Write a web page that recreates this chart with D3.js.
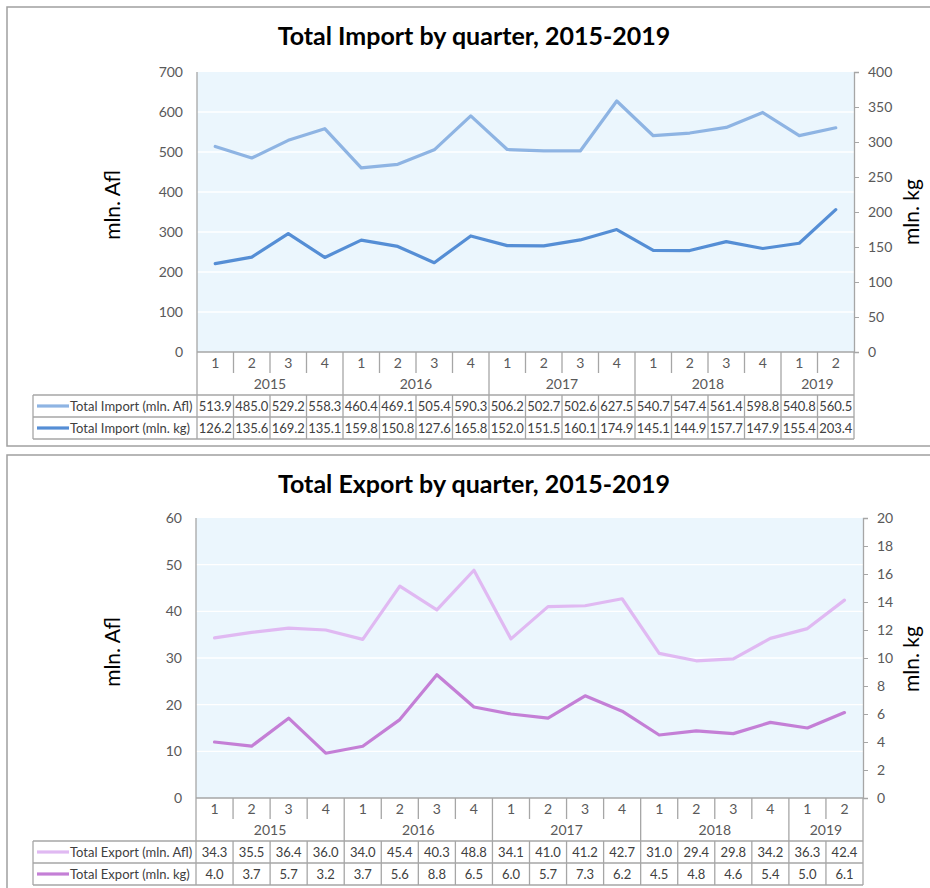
<!DOCTYPE html>
<html>
<head>
<meta charset="utf-8">
<script src="https://cdn.jsdelivr.net/npm/d3@7"></script>
<style>
  html, body { margin: 0; padding: 0; background: #fff; }
  svg { display: block; font-family: Lato, "Open Sans", sans-serif; }
</style>
</head>
<body>
<svg id="chart" width="930" height="888"></svg>
<script>
// ---------- data ----------
const quarters = ["1","2","3","4","1","2","3","4","1","2","3","4","1","2","3","4","1","2"];
const years = ["2015","2016","2017","2018","2019"];
const yearSpans = [4, 4, 4, 4, 2];

const importAfl = [513.9,485.0,529.2,558.3,460.4,469.1,505.4,590.3,506.2,502.7,502.6,627.5,540.7,547.4,561.4,598.8,540.8,560.5];
const importKg  = [126.2,135.6,169.2,135.1,159.8,150.8,127.6,165.8,152.0,151.5,160.1,174.9,145.1,144.9,157.7,147.9,155.4,203.4];
const exportAfl = [34.3,35.5,36.4,36.0,34.0,45.4,40.3,48.8,34.1,41.0,41.2,42.7,31.0,29.4,29.8,34.2,36.3,42.4];
const exportKg  = [4.0,3.7,5.7,3.2,3.7,5.6,8.8,6.5,6.0,5.7,7.3,6.2,4.5,4.8,4.6,5.4,5.0,6.1];

const importLeftTicks  = [0,100,200,300,400,500,600,700];
const importRightTicks = [0,50,100,150,200,250,300,350,400];
const exportLeftTicks  = [0,10,20,30,40,50,60];
const exportRightTicks = [0,2,4,6,8,10,12,14,16,18,20];

const importTitle = "Total Import by quarter, 2015-2019";
const exportTitle = "Total Export by quarter, 2015-2019";
const leftAxisTitle = "mln. Afl";
const rightAxisTitle = "mln. kg";
const importNames = ["Total Import (mln. Afl)", "Total Import (mln. kg)"];
const exportNames = ["Total Export (mln. Afl)", "Total Export (mln. kg)"];

// ---------- drawing ----------
const svg = d3.select("#chart");
const gridGray = "#a6a6a6";
const tickColor = "#595959";
const tickFont = 14;
const labelFont = 13;
const valueFont = 13;

function drawChart(cfg) {
  const g = svg.append("g");
  g.append("rect")
    .attr("x", cfg.box.x).attr("y", cfg.box.y)
    .attr("width", cfg.box.w).attr("height", cfg.box.h)
    .attr("fill", "#fff").attr("stroke", "#a0a0a0").attr("stroke-width", 1.5);

  const p = cfg.plot;
  const x = d3.scaleBand().domain(d3.range(quarters.length)).range([p.x0, p.x1]).padding(0);
  const yL = d3.scaleLinear().domain([cfg.leftTicks[0], cfg.leftTicks[cfg.leftTicks.length-1]]).range([p.y1, p.y0]);
  const yR = d3.scaleLinear().domain([cfg.rightTicks[0], cfg.rightTicks[cfg.rightTicks.length-1]]).range([p.y1, p.y0]);

  g.append("rect").attr("x", p.x0).attr("y", p.y0)
    .attr("width", p.x1 - p.x0).attr("height", p.y1 - p.y0)
    .attr("fill", "#ebf6fd");

  g.append("g").selectAll("line").data(cfg.leftTicks.slice(1, -1)).join("line")
    .attr("x1", p.x0).attr("x2", p.x1)
    .attr("y1", d => yL(d)).attr("y2", d => yL(d))
    .attr("stroke", "#fff").attr("stroke-width", 1.3);

  g.append("text").attr("x", cfg.titleX).attr("y", cfg.titleY)
    .attr("text-anchor", "middle").attr("font-size", 25).attr("font-weight", 700)
    .attr("fill", "#000").text(cfg.title);

  const leftAxis = d3.axisLeft(yL).tickValues(cfg.leftTicks).tickSize(0).tickPadding(14);
  const la = g.append("g").attr("transform", `translate(${p.x0},0)`).call(leftAxis);
  la.select(".domain").remove();
  la.selectAll("text").attr("font-family", "Lato, sans-serif").attr("font-size", tickFont).attr("fill", tickColor);

  const rightAxis = d3.axisRight(yR).tickValues(cfg.rightTicks).tickSize(5).tickPadding(9);
  const ra = g.append("g").attr("transform", `translate(${p.x1},0)`).call(rightAxis);
  ra.select(".domain").attr("stroke", gridGray).attr("stroke-width", 1.3);
  ra.selectAll(".tick line").attr("stroke", gridGray);
  ra.selectAll("text").attr("font-family", "Lato, sans-serif").attr("font-size", tickFont).attr("fill", tickColor);

  g.append("text")
    .attr("transform", `translate(${cfg.leftTitleX},${cfg.leftTitleY}) rotate(-90)`)
    .attr("text-anchor", "middle").attr("font-size", 21).attr("fill", "#000").text(leftAxisTitle);
  g.append("text")
    .attr("transform", `translate(${cfg.rightTitleX},${cfg.rightTitleY}) rotate(-90)`)
    .attr("text-anchor", "middle").attr("font-size", 21).attr("fill", "#000").text(rightAxisTitle);

  const yb = p.y1;
  const tTop = yb + 43, tMid = yb + 65, tBot = yb + 87;
  const lines = g.append("g").attr("stroke", gridGray).attr("stroke-width", 1.3);
  lines.append("line").attr("x1", p.x0).attr("x2", p.x0).attr("y1", p.y0).attr("y2", tBot);
  lines.append("line").attr("x1", p.x1).attr("x2", p.x1).attr("y1", yb).attr("y2", tBot);
  lines.append("line").attr("x1", p.x0).attr("x2", p.x1).attr("y1", yb).attr("y2", yb);
  const yearStarts = [];
  let acc = 0;
  yearSpans.forEach(s => { yearStarts.push(acc); acc += s; });
  d3.range(1, quarters.length).forEach(i => {
    const xx = x(i);
    const isYear = yearStarts.includes(i);
    lines.append("line").attr("x1", xx).attr("x2", xx)
      .attr("y1", yb).attr("y2", isYear ? tBot : yb + 21);
    if (!isYear) {
      lines.append("line").attr("x1", xx).attr("x2", xx).attr("y1", tTop).attr("y2", tBot);
    }
  });
  [tTop, tMid, tBot].forEach(yy => {
    lines.append("line").attr("x1", cfg.tableLeft).attr("x2", p.x1).attr("y1", yy).attr("y2", yy);
  });
  lines.append("line").attr("x1", cfg.tableLeft).attr("x2", cfg.tableLeft).attr("y1", tTop).attr("y2", tBot);

  g.append("g").selectAll("text").data(quarters).join("text")
    .attr("x", (d, i) => x(i) + x.bandwidth() / 2).attr("y", yb + 16)
    .attr("text-anchor", "middle").attr("font-size", tickFont).attr("fill", tickColor).text(d => d);
  g.append("g").selectAll("text").data(years).join("text")
    .attr("x", (d, i) => x(yearStarts[i]) + yearSpans[i] * x.bandwidth() / 2)
    .attr("y", yb + 37)
    .attr("text-anchor", "middle").attr("font-size", tickFont).attr("fill", tickColor).text(d => d);

  const rows = [
    { name: cfg.names[0], vals: cfg.left, color: cfg.colors[0], cy: (tTop + tMid) / 2 },
    { name: cfg.names[1], vals: cfg.right, color: cfg.colors[1], cy: (tMid + tBot) / 2 }
  ];
  rows.forEach(r => {
    g.append("line").attr("x1", cfg.tableLeft + 4).attr("x2", cfg.tableLeft + 36)
      .attr("y1", r.cy).attr("y2", r.cy).attr("stroke", r.color).attr("stroke-width", 3.2);
    g.append("text").attr("x", cfg.tableLeft + 37).attr("y", r.cy + 5)
      .attr("font-size", labelFont).attr("fill", "#404040").text(r.name);
    g.append("g").selectAll("text").data(r.vals).join("text")
      .attr("x", (d, i) => x(i) + x.bandwidth() / 2).attr("y", r.cy + 5)
      .attr("text-anchor", "middle").attr("font-size", valueFont).attr("fill", "#404040")
      .text(d => d.toFixed(1));
  });

  const lineL = d3.line().x((d, i) => x(i) + x.bandwidth() / 2).y(d => yL(d));
  const lineR = d3.line().x((d, i) => x(i) + x.bandwidth() / 2).y(d => yR(d));
  g.append("path").datum(cfg.left).attr("d", lineL)
    .attr("fill", "none").attr("stroke", cfg.colors[0]).attr("stroke-width", 3.2)
    .attr("stroke-linejoin", "round").attr("stroke-linecap", "round");
  g.append("path").datum(cfg.right).attr("d", lineR)
    .attr("fill", "none").attr("stroke", cfg.colors[1]).attr("stroke-width", 3.2)
    .attr("stroke-linejoin", "round").attr("stroke-linecap", "round");
}

drawChart({
  box: { x: 7, y: 7, w: 930, h: 439 },
  plot: { x0: 197, x1: 854, y0: 72, y1: 352 },
  leftTicks: importLeftTicks, rightTicks: importRightTicks,
  left: importAfl, right: importKg,
  names: importNames, colors: ["#8eb4e3", "#558ed5"],
  title: importTitle, titleX: 474, titleY: 45,
  leftTitleX: 120, leftTitleY: 205, rightTitleX: 919, rightTitleY: 212,
  tableLeft: 33
});

drawChart({
  box: { x: 7, y: 455, w: 930, h: 450 },
  plot: { x0: 196, x1: 863, y0: 518, y1: 798 },
  leftTicks: exportLeftTicks, rightTicks: exportRightTicks,
  left: exportAfl, right: exportKg,
  names: exportNames, colors: ["#e0b9f2", "#c47fd6"],
  title: exportTitle, titleX: 474, titleY: 493,
  leftTitleX: 120, leftTitleY: 652, rightTitleX: 919, rightTitleY: 659,
  tableLeft: 33
});
</script>
</body>
</html>
